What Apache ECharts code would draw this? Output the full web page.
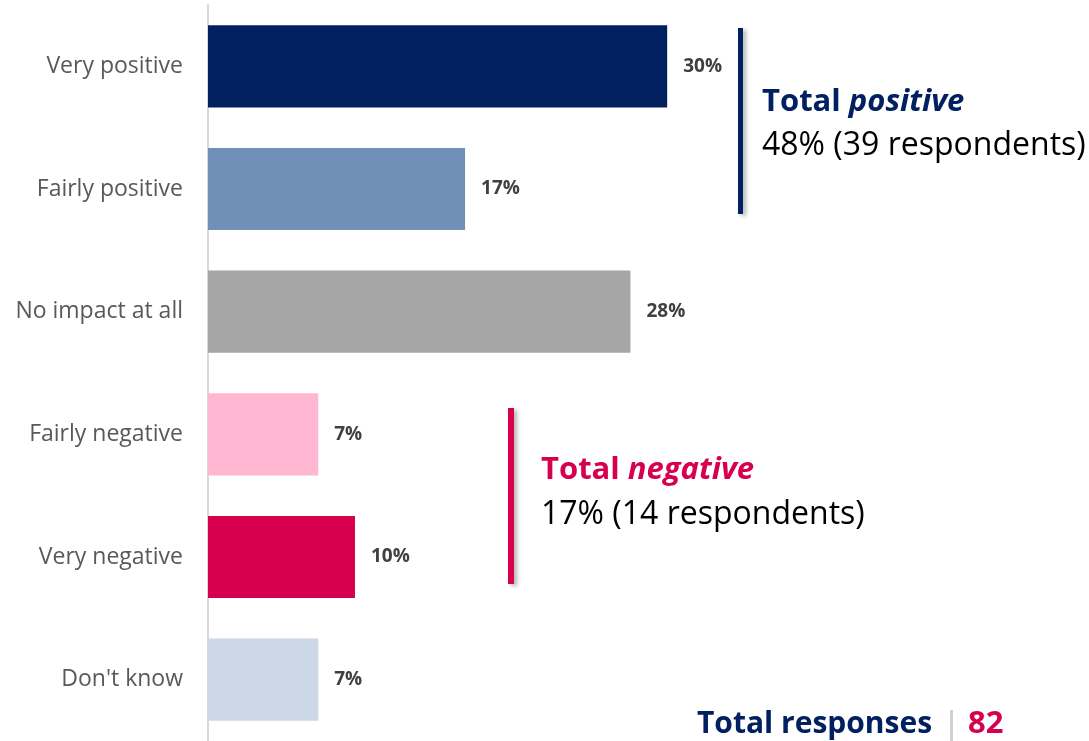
<!DOCTYPE html>
<html>
<head>
<meta charset="utf-8">
<script src="https://cdn.jsdelivr.net/npm/echarts@6/dist/echarts.min.js"></script>
<style>
  html, body { margin: 0; padding: 0; background: #fff; }
  #chart { width: 1089px; height: 741px; }
</style>
</head>
<body>
<div id="chart"></div>
<script>
// survey answers, share of 82 responses (%)
var categories = ['Very positive', 'Fairly positive', 'No impact at all', 'Fairly negative', 'Very negative', "Don't know"];
var shares = [30.49, 17.07, 28.05, 7.32, 9.76, 7.32];
var barColors = ['#002060', '#7090b8', '#a6a6a6', '#ffb6d1', '#d6004f', '#ccd8e6'];

var totalPositive = { pct: 48, n: 39 };
var totalNegative = { pct: 17, n: 14 };
var totalResponses = 82;

var navy = '#002060';
var crimson = '#d6004f';
var font = 'Open Sans';

var myChart = echarts.init(document.getElementById('chart'));
myChart.setOption({
  animation: false,
  grid: {
    left: 208,
    top: 5,
    right: 0,
    height: 738
  },
  xAxis: {
    type: 'value',
    min: 0,
    max: 58.5,
    show: false
  },
  yAxis: {
    type: 'category',
    inverse: true,
    data: categories,
    axisLine: { show: true, lineStyle: { color: '#d9d9d9', width: 2 } },
    axisTick: { show: false },
    axisLabel: {
      color: '#595959',
      fontFamily: font,
      fontSize: 23,
      margin: 25
    }
  },
  series: [
    {
      type: 'bar',
      barCategoryGap: '33%',
      data: shares.map(function (v, i) {
        return { value: v, itemStyle: { color: barColors[i] } };
      }),
      label: {
        show: true,
        position: 'right',
        distance: 16,
        color: '#404040',
        fontFamily: font,
        fontWeight: 'bold',
        fontSize: 19,
        formatter: function (p) { return Math.round(p.value) + '%'; }
      }
    }
  ],
  graphic: [
    // total positive bracket
    {
      type: 'rect',
      shape: { x: 738, y: 28, width: 5, height: 186 },
      style: { fill: navy, shadowBlur: 4, shadowOffsetX: 3, shadowOffsetY: 2, shadowColor: 'rgba(0,0,0,0.3)' }
    },
    {
      type: 'text',
      x: 762, y: 102,
      style: {
        text: '{b|Total }{bi|positive}',
        verticalAlign: 'middle',
        rich: {
          b: { fontFamily: font, fontWeight: 'bold', fontSize: 31, fill: navy },
          bi: { fontFamily: font, fontWeight: 'bold', fontStyle: 'italic', fontSize: 31, fill: navy }
        }
      }
    },
    {
      type: 'text',
      x: 762, y: 146,
      style: {
        text: totalPositive.pct + '% (' + totalPositive.n + ' respondents)',
        verticalAlign: 'middle',
        fontFamily: font, fontSize: 32, fill: '#000'
      }
    },
    // total negative bracket
    {
      type: 'rect',
      shape: { x: 508, y: 408, width: 6, height: 176 },
      style: { fill: crimson, shadowBlur: 4, shadowOffsetX: 3, shadowOffsetY: 2, shadowColor: 'rgba(0,0,0,0.3)' }
    },
    {
      type: 'text',
      x: 541, y: 470,
      style: {
        text: '{b|Total }{bi|negative}',
        verticalAlign: 'middle',
        rich: {
          b: { fontFamily: font, fontWeight: 'bold', fontSize: 31, fill: crimson },
          bi: { fontFamily: font, fontWeight: 'bold', fontStyle: 'italic', fontSize: 31, fill: crimson }
        }
      }
    },
    {
      type: 'text',
      x: 541, y: 515,
      style: {
        text: totalNegative.pct + '% (' + totalNegative.n + ' respondents)',
        verticalAlign: 'middle',
        fontFamily: font, fontSize: 32, fill: '#000'
      }
    },
    // total responses
    {
      type: 'text',
      x: 697, y: 724,
      style: {
        text: 'Total responses',
        verticalAlign: 'middle',
        fontFamily: font, fontWeight: 'bold', fontSize: 30, fill: navy
      }
    },
    {
      type: 'rect',
      shape: { x: 950, y: 710, width: 3, height: 31 },
      style: { fill: '#d0d0d0' }
    },
    {
      type: 'text',
      x: 968, y: 724,
      style: {
        text: String(totalResponses),
        verticalAlign: 'middle',
        fontFamily: font, fontWeight: 'bold', fontSize: 31, fill: crimson
      }
    }
  ]
});
</script>
</body>
</html>
